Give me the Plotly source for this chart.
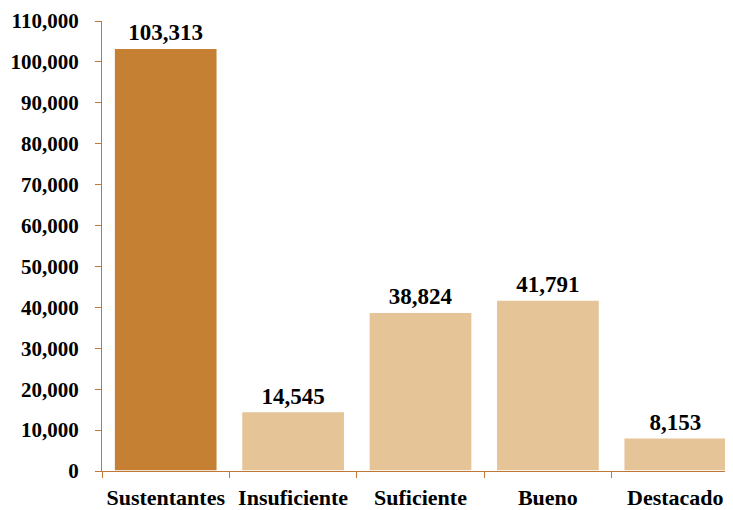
import plotly.graph_objects as go

categories = ["Sustentantes", "Insuficiente", "Suficiente", "Bueno", "Destacado"]
values = [103313, 14545, 38824, 41791, 8153]
colors = ["#C68033", "#E5C497", "#E5C497", "#E5C497", "#E5C497"]
tick_vals = list(range(0, 110001, 10000))
tick_text = [f"{v:,}" for v in tick_vals]

font_family = "Liberation Serif"
axis_color = "#C0783A"

fig = go.Figure(go.Bar(
    x=categories, y=values,
    marker=dict(color=colors, line=dict(color="white", width=1.5)),
    text=[f"{v:,}" for v in values],
    textposition="outside",
    textfont=dict(family=font_family, size=23, color="black", weight="bold"),
    cliponaxis=False,
    width=0.81,
))

fig.update_layout(
    width=733, height=510,
    margin=dict(l=94, r=2, t=13, b=47, autoexpand=False),
    plot_bgcolor="white", paper_bgcolor="white",
    showlegend=False,
    font=dict(family=font_family, color="black"),
)
fig.update_xaxes(
    type="category", showline=True, linecolor=axis_color, linewidth=1.3,
    ticks="outside", tickson="boundaries", ticklen=6, tickcolor=axis_color,
    tickfont=dict(family=font_family, size=22, color="black", weight="bold"),
    tickangle=0, ticklabelstandoff=6,
    showgrid=False, automargin=False,
)
fig.update_yaxes(
    range=[0, 110000], tickvals=tick_vals, ticktext=tick_text,
    showline=True, linecolor=axis_color, linewidth=1.3,
    ticks="outside", ticklen=6, tickcolor=axis_color,
    tickfont=dict(family=font_family, size=21, color="black", weight="bold"),
    ticklabelstandoff=12,
    showgrid=False, zeroline=False, automargin=False,
)
fig.write_html("out.html")
